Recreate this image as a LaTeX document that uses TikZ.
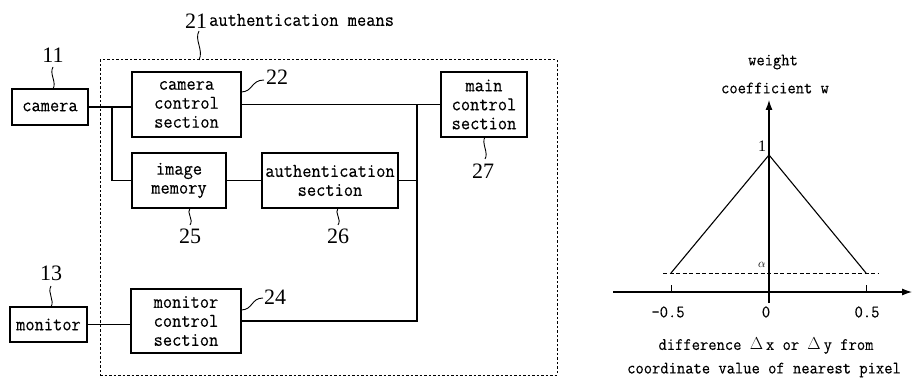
\documentclass[tikz,border=0pt]{standalone}
\usepackage{fontspec}
\setmainfont{Liberation Serif}
\newfontfamily\monofont[FakeStretch=0.92,FakeBold=0.25]{Latin Modern Mono}
\usetikzlibrary{arrows.meta}
\begin{document}
\begin{tikzpicture}[x=1pt,y=-1pt,
 box/.style={draw, line width=1.1pt, inner sep=0pt, align=center, font=\monofont\fontsize{19.5}{19}\selectfont},
 num/.style={font=\fontsize{22}{22}\selectfont, inner sep=0pt},
 lead/.style={line width=0.9pt},
 wire/.style={line width=1.1pt},
 lbl/.style={font=\monofont\fontsize{17.5}{17.5}\selectfont, inner sep=0pt},
 axis/.style={line width=1.1pt, -{Latex[length=10pt,width=7pt]}},
 ]
\useasboundingbox (0,0) rectangle (912,379);

% dashed enclosure
\node[draw, dash pattern=on 2.5pt off 2pt, line width=1pt, minimum width=457pt, minimum height=315pt, inner sep=0pt] (am) at (328.5,217.5) {};

% boxes
\node[box, minimum width=76pt, minimum height=36pt] (cam) at (50,107) {camera};
\node[box, minimum width=109pt, minimum height=65pt] (ccs) at (186.5,104.5) {camera\\control\\section};
\node[box, minimum width=94pt, minimum height=55pt] (im) at (179,180.5) {image\\memory};
\node[box, minimum width=136pt, minimum height=55pt] (as) at (330,180.5) {authentication\\section};
\node[box, minimum width=86pt, minimum height=65pt] (mcs) at (484,104.5) {main\\control\\section};
\node[box, minimum width=77pt, minimum height=35pt] (mon) at (48.5,324.5) {monitor};
\node[box, minimum width=110pt, minimum height=64pt] (moncs) at (186,321) {monitor\\control\\section};

% wires
\coordinate (j1) at (112,107);
\coordinate (bus) at (417,104.5);
\draw[wire] (cam.east) -- (ccs.west |- cam.east);
\draw[wire] (j1) |- (im.west);
\draw[wire] (im.east) -- (as.west);
\draw[wire] (ccs.east) -- (mcs.west);
\draw[wire] (as.east) -- (as.east -| bus);
\draw[wire] (bus) |- (moncs.east);
\draw[wire] (mon.east) -- (mon.east -| moncs.west);

% reference numbers
\node[num] (n21) at (196,21) {21};
\node[font=\monofont\fontsize{19.5}{19.5}\selectfont, inner sep=0pt, anchor=west] (t21) at (209,20) {authentication means};
\node[num] (n11) at (53,55) {11};
\node[num] (n13) at (51,273) {13};
\node[num] (n22) at (277,77) {22};
\node[num] (n24) at (275,297) {24};
\node[num] (n25) at (190,236) {25};
\node[num] (n26) at (338,236) {26};
\node[num] (n27) at (483,171) {27};

% leaders
\draw[lead] (199,31) .. controls (194,40) and (204,50) .. (199,60);
\draw[lead] (53,67) .. controls (49,74) and (57,82) .. (53,89);
\draw[lead] (51,286) .. controls (47,293) and (55,300) .. (51,307);
\draw[lead] (190,208) .. controls (186,213) and (194,219) .. (190,225);
\draw[lead] (338,208) .. controls (334,213) and (342,219) .. (338,225);
\draw[lead] (485,137) .. controls (481,143) and (489,153) .. (485,159);
\draw[lead] (241,92) .. controls (253,92) and (251,80) .. (264,80);
\draw[lead] (241,310) .. controls (253,310) and (251,298) .. (263,298);

% graph
\coordinate (xl) at (613,292);
\coordinate (xr) at (912,292);
\coordinate (yb) at (769,303);
\coordinate (yt) at (769,100);
\coordinate (pk) at (769,155);
\coordinate (bl) at (671,273);
\coordinate (br) at (866,273);
\draw[axis] (xl) -- (xr);
\draw[axis] (yb) -- (yt);
\draw[wire] (bl) -- (pk) -- (br);
\draw[line width=1pt, dash pattern=on 4pt off 2.5pt] (663,273) -- (878,273);
\draw[line width=0.9pt] (671,285) -- (671,292);
\draw[line width=0.9pt] (866,285) -- (866,292);

\node[font=\fontsize{16}{16}\selectfont, inner sep=0pt] (l1) at (762,146) {1};
\node[font=\fontsize{12}{12}\selectfont, inner sep=0pt] (la) at (762,265) {$\alpha$};
\node[lbl] (lm) at (668,312) {-0.5};
\node[lbl] (l0) at (766,312) {0};
\node[lbl] (lp) at (867,312) {0.5};
\node[lbl] (w1) at (773,62) {weight};
\node[lbl] (w2) at (775,88) {coefficient w};
\node[lbl] (d1) at (766,346) {difference $\Delta$\,x or $\Delta$\,y from};
\node[lbl] (d2) at (764,370) {coordinate value of nearest pixel};
\end{tikzpicture}
\end{document}
